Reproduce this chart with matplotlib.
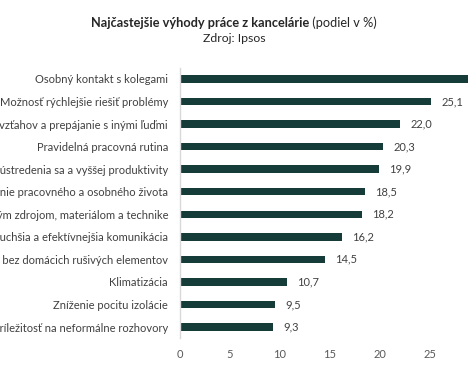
import matplotlib
matplotlib.use("Agg")
import matplotlib.pyplot as plt

plt.rcParams['font.family'] = ['Lato', 'DejaVu Sans']

categories = [
    "Osobný kontakt s kolegami",
    "Možnosť rýchlejšie riešiť problémy",
    "Budovanie vzťahov a prepájanie s inými ľuďmi",
    "Pravidelná pracovná rutina",
    "Možnosť sústredenia sa a vyššej produktivity",
    "Oddelenie pracovného a osobného života",
    "Prístup k firemným zdrojom, materiálom a technike",
    "Jednoduchšia a efektívnejšia komunikácia",
    "Prostredie bez domácich rušivých elementov",
    "Klimatizácia",
    "Zníženie pocitu izolácie",
    "Príležitosť na neformálne rozhovory",
]
values = [30.5, 25.1, 22.0, 20.3, 19.9, 18.5, 18.2, 16.2, 14.5, 10.7, 9.5, 9.3]
xticks = [0, 5, 10, 15, 20, 25]

bar_color = "#163c3a"
text_color = "#404040"

W, H = 468, 372
fig = plt.figure(figsize=(W / 100, H / 100), dpi=100)
# axes reaches past the right edge, like the cropped original
ax = fig.add_axes([180 / W, 33.7 / H, 300 / W, 270.6 / H])

ypos = list(range(len(categories)))
ax.barh(ypos, values, height=0.33, color=bar_color)
ax.set_ylim(len(categories) - 0.5, -0.5)
ax.set_xlim(0, 30)

ax.set_yticks(ypos)
ax.set_yticklabels(categories, fontsize=8.0, color=text_color)
ax.set_xticks(xticks)
ax.set_xticklabels([str(t) for t in xticks], fontsize=8.0, color="#595959")
ax.tick_params(axis='y', length=0, pad=8.6)
ax.tick_params(axis='x', length=0, pad=8.0)

for s in ['top', 'right', 'bottom']:
    ax.spines[s].set_visible(False)
ax.spines['left'].set_color("#d9d9d9")
ax.spines['left'].set_linewidth(1.0)

for y, v in zip(ypos, values):
    if v > 27:  # label falls outside the cropped picture
        continue
    ax.annotate(f"{v:.1f}".replace(".", ","), (v, y), xytext=(7.5, 0),
                textcoords="offset points", va="center", ha="left",
                fontsize=8.0, color=text_color)

# title: bold part + normal part, centred together
t1 = fig.text(0, 1 - 23 / H, "Najčastejšie výhody práce z kancelárie", fontsize=9.2,
              fontweight="bold", color="#262626", va="center", ha="left")
t2 = fig.text(0, 1 - 23 / H, " (podiel v %)", fontsize=9.2, color="#262626",
              va="center", ha="left")
fig.canvas.draw()
r = fig.canvas.get_renderer()
w1 = t1.get_window_extent(r).width / W
w2 = t2.get_window_extent(r).width / W
x0 = 234 / W - (w1 + w2) / 2
t1.set_x(x0)
t2.set_x(x0 + w1)
fig.text(234 / W, 1 - 38 / H, "Zdroj: Ipsos", fontsize=8.8, color="#262626",
         ha="center", va="center")

fig.savefig("out.png", dpi=100)
